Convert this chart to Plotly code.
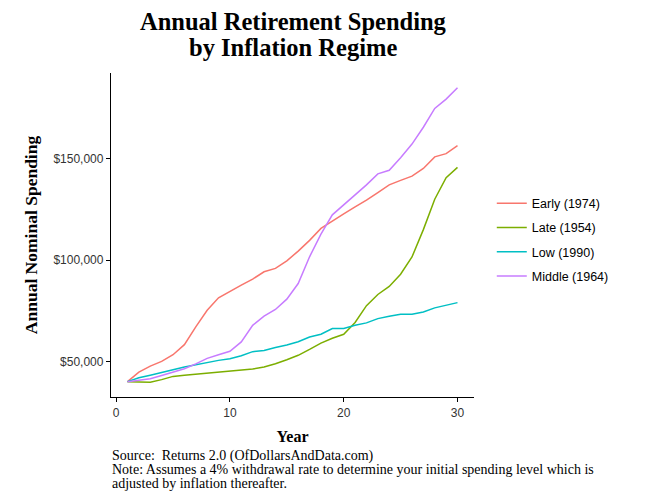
import plotly.graph_objects as go

years = list(range(1, 31))

early_1974 = [40000, 44700, 47700, 50000, 53300, 58250, 67000, 75200, 81350, 84650,
              87600, 90600, 94200, 95900, 99600, 104400, 109700, 115600, 119400, 122800,
              126200, 129500, 133300, 137100, 139300, 141400, 145200, 150900, 152500, 156400]
late_1954 = [40000, 39700, 39700, 41000, 42600, 43200, 43700, 44200, 44400, 45000,
             45700, 46200, 47200, 48800, 50800, 53000, 55900, 59000, 61400, 63400,
             69200, 77500, 83000, 87000, 93000, 101500, 115000, 130000, 140600, 145700]
low_1990 = [40000, 41900, 43200, 44700, 45900, 47200, 48300, 49500, 50500, 51300,
            52800, 54800, 55400, 56900, 58100, 59700, 62000, 63400, 66200, 66200,
            67800, 69000, 71100, 72300, 73300, 73300, 74400, 76400, 77700, 79000]
middle_1964 = [40000, 40600, 41400, 43000, 44700, 46400, 48800, 51500, 53300, 55000,
               59600, 67800, 72300, 75600, 80700, 88400, 101600, 112800, 122300, 127200,
               132300, 137100, 142500, 144300, 150500, 157200, 165500, 174800, 179400, 185000]

series_names = ["Early (1974)", "Late (1954)", "Low (1990)", "Middle (1964)"]
series_values = [early_1974, late_1954, low_1990, middle_1964]
colors = ["#F8766D", "#7CAE00", "#00BFC4", "#C77CFF"]

x_ticks = [0, 10, 20, 30]
y_ticks = [50000, 100000, 150000]
y_tick_labels = ["$50,000", "$100,000", "$150,000"]

title_lines = ["Annual Retirement Spending", "by Inflation Regime"]
x_title = "Year"
y_title = "Annual Nominal Spending"
caption_lines = ["Source:  Returns 2.0 (OfDollarsAndData.com)",
                 "Note: Assumes a 4% withdrawal rate to determine your initial spending level which is",
                 "adjusted by inflation thereafter."]

serif = "Liberation Serif, Times New Roman, serif"
sans = "Liberation Sans, Arial, Helvetica, sans-serif"

fig = go.Figure()
for name, vals, col in zip(series_names, series_values, colors):
    fig.add_trace(go.Scatter(x=years, y=vals, mode="lines", name=name,
                             legendgroup=name,
                             line=dict(color=col, width=1.5)))

allv = [v for s in series_values for v in s]
lo, hi = min(allv), max(allv)
pad = (hi - lo) * 0.05

# paper y for a figure-pixel y (plot bottom at 389 px, height 324 px)
def py(fig_px):
    return (389 - fig_px) / 324

annotations = []
for txt, fy in zip(title_lines, [14, 39.5]):
    annotations.append(dict(text=txt, xref="paper", yref="paper", x=0.5014, y=py(fy),
                            xanchor="center", yanchor="middle", showarrow=False,
                            font=dict(family=serif, size=24.5, color="black", weight="bold")))
for txt, fy in zip(caption_lines, [447.5, 461.5, 475.5]):
    annotations.append(dict(text=txt, xref="paper", yref="paper", x=-0.004, y=py(fy),
                            xanchor="left", yanchor="middle", align="left", showarrow=False,
                            font=dict(family=serif, size=14, color="black")))

fig.update_layout(
    width=639, height=492,
    margin=dict(l=103, r=173, t=65, b=103),
    paper_bgcolor="white", plot_bgcolor="white",
    showlegend=True,
    legend=dict(x=1.049, xanchor="left", y=0.486, yanchor="middle",
                font=dict(family=sans, size=12.5, color="black"),
                tracegroupgap=5, itemwidth=30, bgcolor="rgba(0,0,0,0)"),
    xaxis=dict(range=[1 - 0.05 * 29, 30 + 0.05 * 29], tickvals=x_ticks,
               showgrid=False, zeroline=False, showline=True, linecolor="black",
               linewidth=1.3, ticks="outside", ticklen=4, tickcolor="black",
               tickfont=dict(family=sans, size=12, color="#333333"),
               title=dict(text=x_title, standoff=12,
                          font=dict(family=serif, size=16, color="black", weight="bold"))),
    yaxis=dict(range=[lo - pad, hi + pad], tickvals=y_ticks, ticktext=y_tick_labels,
               showgrid=False, zeroline=False, showline=True, linecolor="black",
               linewidth=1.3, ticks="outside", ticklen=4, tickcolor="black",
               tickfont=dict(family=sans, size=12, color="#333333"),
               title=dict(text=y_title, standoff=11,
                          font=dict(family=serif, size=17.5, color="black", weight="bold"))),
    annotations=annotations,
)

fig.write_html("out.html")
